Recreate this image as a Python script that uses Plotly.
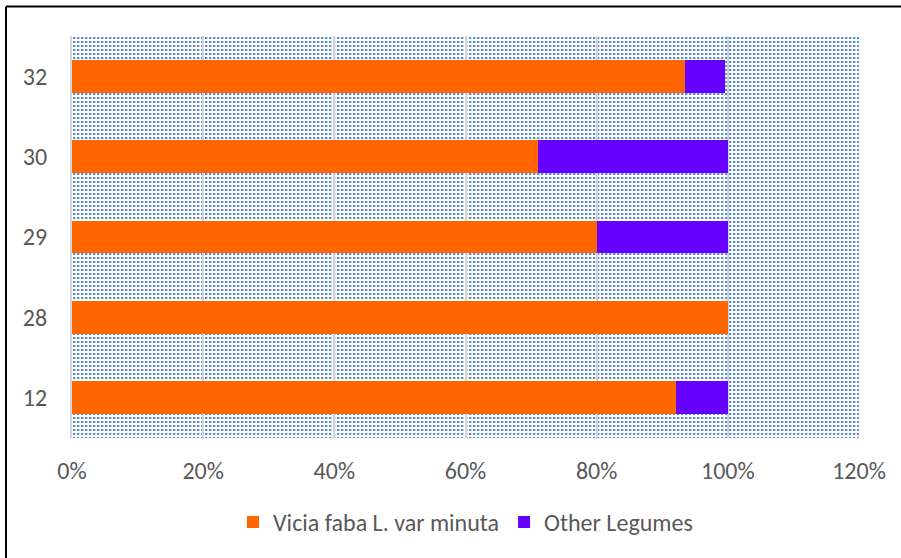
import base64
import plotly.graph_objects as go

# Sample sites (category axis, bottom to top) and share of each legume group
sites = ["12", "28", "29", "30", "32"]
vicia_faba = [0.921, 1.00, 0.80, 0.71, 0.935]
other_legumes = [0.079, 0.00, 0.20, 0.29, 0.06]
x_ticks = [0.0, 0.2, 0.4, 0.6, 0.8, 1.0, 1.2]

W, H = 901, 558
M_L, M_R, M_T, M_B = 72, 42, 36, 120
PW, PH = W - M_L - M_R, H - M_T - M_B

FONT = "Carlito, Lato, 'Liberation Sans', sans-serif"
TEXT = "#595959"
GRID = "#D4D4D4"
FS = 24

# Dotted fill for the plot area, tiled 4px squares
svg = (
    f'<svg xmlns="http://www.w3.org/2000/svg" width="{PW}" height="{PH}" '
    f'viewBox="0 0 {PW} {PH}" preserveAspectRatio="none">'
    '<defs><pattern id="d" width="4" height="4" patternUnits="userSpaceOnUse">'
    '<rect x="1" y="1" width="2" height="2" fill="#5A88DA"/>'
    '<rect x="3" y="1" width="1" height="2" fill="#C9D8F2"/>'
    '</pattern></defs>'
    f'<rect width="{PW}" height="{PH}" fill="url(#d)"/></svg>'
)
dots = "data:image/svg+xml;base64," + base64.b64encode(svg.encode()).decode()

fig = go.Figure()
fig.add_trace(go.Bar(
    y=sites, x=vicia_faba, orientation="h", name="Vicia faba L. var minuta",
    marker=dict(color="#FF6600", line=dict(width=0)),
))
fig.add_trace(go.Bar(
    y=sites, x=other_legumes, orientation="h", name="Other Legumes",
    marker=dict(color="#6600FF", line=dict(width=0)),
))

# Outer frame (top and left edges)
fx0 = (6 - M_L) / PW
fy_top = 1 + (M_T - 6.5) / PH
fig.add_shape(type="line", xref="paper", yref="paper",
              x0=fx0, x1=1 + (M_R + 10) / PW, y0=fy_top, y1=fy_top,
              line=dict(color="black", width=2))
fig.add_shape(type="line", xref="paper", yref="paper",
              x0=fx0, x1=fx0, y0=fy_top, y1=-(M_B + 10) / PH,
              line=dict(color="black", width=2))

fig.update_layout(
    width=W, height=H,
    margin=dict(l=M_L, r=M_R, t=M_T, b=M_B),
    barmode="stack", bargap=0.59,
    paper_bgcolor="white", plot_bgcolor="white",
    font=dict(family=FONT, size=FS, color=TEXT),
    images=[dict(source=dots, xref="paper", yref="paper", x=0, y=1,
                 sizex=1, sizey=1, xanchor="left", yanchor="top",
                 sizing="stretch", layer="below")],
    xaxis=dict(range=[0, 1.2], tickvals=x_ticks, tickformat=".0%",
               showgrid=True, gridcolor=GRID, gridwidth=2,
               zeroline=False, showline=False, ticks="",
               ticklabelstandoff=16, tickfont=dict(size=FS, color=TEXT)),
    yaxis=dict(type="category", categoryorder="array", categoryarray=sites,
               showgrid=False, showline=True, linecolor=GRID, linewidth=2,
               ticks="", ticklabelstandoff=18, tickfont=dict(size=FS, color=TEXT)),
    legend=dict(orientation="h", x=0.5, xanchor="center", y=-0.21,
                yanchor="middle", font=dict(size=FS, color=TEXT),
                traceorder="normal", bgcolor="rgba(0,0,0,0)"),
    showlegend=True,
)

fig.write_html("out.html")
